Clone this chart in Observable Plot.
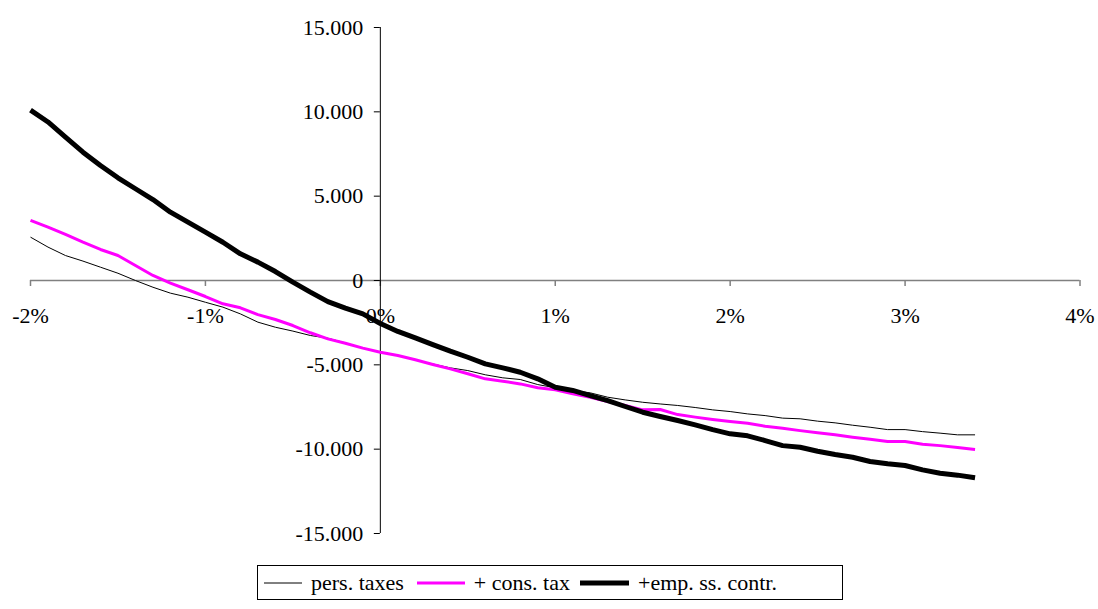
<!DOCTYPE html>
<html>
<head>
<meta charset="utf-8">
<script src="https://cdn.jsdelivr.net/npm/d3@7"></script>
<script src="https://cdn.jsdelivr.net/npm/@observablehq/plot@0.6"></script>
<style>
  html, body { margin: 0; padding: 0; background: #fff; }
  #wrap { position: relative; width: 1098px; height: 609px; font-family: 'Liberation Serif', serif; }
  #legend {
    position: absolute; left: 257px; top: 565px; width: 586px; height: 35px;
    box-sizing: border-box; border: 1px solid #000; background: #fff;
    display: flex; align-items: center; font-family: 'Liberation Serif', serif; font-size: 22px; color: #000; padding-left: 6px; white-space: nowrap;
  }
  #legend svg { display: block; }
  #chart svg text { font-family: 'Liberation Serif', serif; }
</style>
</head>
<body>
<div id="wrap"><div id="chart"></div><div id="legend"></div></div>
<script>
// Growth rate (%) on x
const xValues = [-2.0,-1.9,-1.8,-1.7,-1.6,-1.5,-1.4,-1.3,-1.2,-1.1,-1.0,
  -0.9,-0.8,-0.7,-0.6,-0.5,-0.4,-0.3,-0.2,-0.1,0.0,
  0.1,0.2,0.3,0.4,0.5,0.6,0.7,0.8,0.9,1.0,
  1.1,1.2,1.3,1.4,1.5,1.6,1.7,1.8,1.9,2.0,
  2.1,2.2,2.3,2.4,2.5,2.6,2.7,2.8,2.9,3.0,
  3.1,3.2,3.3,3.4];
const persTaxes = [2570,1980,1480,1150,790,430,0,-400,-750,-990,-1290,
  -1580,-1980,-2470,-2770,-3000,-3260,-3420,-3700,-4010,-4250,
  -4450,-4700,-4950,-5180,-5340,-5590,-5770,-5870,-6170,-6360,
  -6520,-6660,-6920,-7080,-7220,-7320,-7410,-7530,-7670,-7770,
  -7910,-8010,-8160,-8200,-8340,-8440,-8580,-8700,-8840,-8840,
  -8960,-9050,-9150,-9150];
const consTax = [3560,3160,2730,2270,1840,1480,890,300,-160,-550,-950,
  -1380,-1620,-2020,-2310,-2670,-3100,-3460,-3720,-4010,-4250,
  -4450,-4700,-4980,-5240,-5530,-5830,-5970,-6130,-6360,-6480,
  -6720,-6920,-7170,-7410,-7670,-7650,-7950,-8100,-8240,-8360,
  -8460,-8640,-8760,-8900,-9030,-9150,-9290,-9410,-9550,-9550,
  -9710,-9790,-9900,-10020];
const empSsContr = [10100,9400,8500,7610,6820,6090,5440,4800,4050,3460,2870,
  2270,1580,1090,530,-100,-690,-1250,-1640,-1980,-2550,
  -3020,-3400,-3800,-4190,-4550,-4940,-5180,-5440,-5830,-6330,
  -6520,-6820,-7120,-7470,-7810,-8060,-8300,-8560,-8840,-9090,
  -9210,-9490,-9790,-9890,-10120,-10320,-10480,-10730,-10870,-10970,
  -11230,-11430,-11540,-11700];
const seriesNames = ["pers. taxes", "+ cons. tax", "+emp. ss. contr."];
const seriesColors = ["#000000", "#ff00ff", "#000000"];
const seriesWidths = [1, 3, 5];
const xTicks = [-2, -1, 0, 1, 2, 3, 4];
const xTickLabels = ["-2%", "-1%", "0%", "1%", "2%", "3%", "4%"];
const yTicks = [-15000, -10000, -5000, 0, 5000, 10000, 15000];

const loc = d3.formatLocale({decimal: ",", thousands: ".", grouping: [3], currency: ["", ""], minus: "-"});
const fmt = loc.format(",.0f");

const allSeries = [persTaxes, consTax, empSsContr];
const rows = [];
allSeries.forEach((vals, s) => vals.forEach((v, i) => rows.push({x: xValues[i], y: v, s})));

const FONT = "'Liberation Serif', serif";
const marks = [
  Plot.ruleY([0], {x1: -2, x2: 4, stroke: "#808080", strokeWidth: 1.5}),
  Plot.ruleX(xTicks, {x: d => d, y1: 0, y2: 0, insetBottom: -6, stroke: "#808080", strokeWidth: 1.5}),
  Plot.ruleX([0], {y1: -15000, y2: 15000, stroke: "#000", strokeWidth: 1}),
  Plot.ruleY(yTicks, {y: d => d, x1: 0, x2: 0, insetLeft: -6, stroke: "#000", strokeWidth: 1}),
  Plot.text(yTicks, {x: 0, y: d => d, text: d => fmt(d), textAnchor: "end", dx: -17, fontSize: 22, fontFamily: FONT, fill: "#000"}),
  Plot.text(xTicks, {x: d => d, y: 0, text: (d, i) => xTickLabels[i], textAnchor: "middle", dy: 35, fontSize: 22, fontFamily: FONT, fill: "#000"})
];
allSeries.forEach((vals, s) => {
  marks.push(Plot.line(rows.filter(r => r.s === s), {x: "x", y: "y", stroke: seriesColors[s], strokeWidth: seriesWidths[s], strokeLinejoin: "round", strokeLinecap: "butt"}));
});

const chart = Plot.plot({
  width: 1098,
  height: 555,
  marginLeft: 30,
  marginRight: 18.5,
  marginTop: 27,
  marginBottom: 22,
  style: {fontFamily: FONT, fontSize: "22px", background: "#fff"},
  x: {domain: [-2, 4], axis: null},
  y: {domain: [-15000, 15000], axis: null},
  marks
});
document.getElementById("chart").appendChild(chart);

// Legend
const legend = document.getElementById("legend");
const swW = [38, 48, 49];
const gapsBefore = [0, 13, 10];
seriesNames.forEach((name, s) => {
  const item = document.createElement("div");
  item.style.display = "flex";
  item.style.alignItems = "center";
  item.style.marginLeft = gapsBefore[s] + "px";
  const ns = "http://www.w3.org/2000/svg";
  const svg = document.createElementNS(ns, "svg");
  svg.setAttribute("width", swW[s]);
  svg.setAttribute("height", 10);
  const ln = document.createElementNS(ns, "line");
  ln.setAttribute("x1", 0); ln.setAttribute("x2", swW[s]);
  ln.setAttribute("y1", 5); ln.setAttribute("y2", 5);
  ln.setAttribute("stroke", seriesColors[s]);
  ln.setAttribute("stroke-width", seriesWidths[s]);
  svg.appendChild(ln);
  const label = document.createElement("span");
  label.textContent = name;
  label.style.marginLeft = "9px";
  item.appendChild(svg);
  item.appendChild(label);
  legend.appendChild(item);
});
</script>
</body>
</html>
